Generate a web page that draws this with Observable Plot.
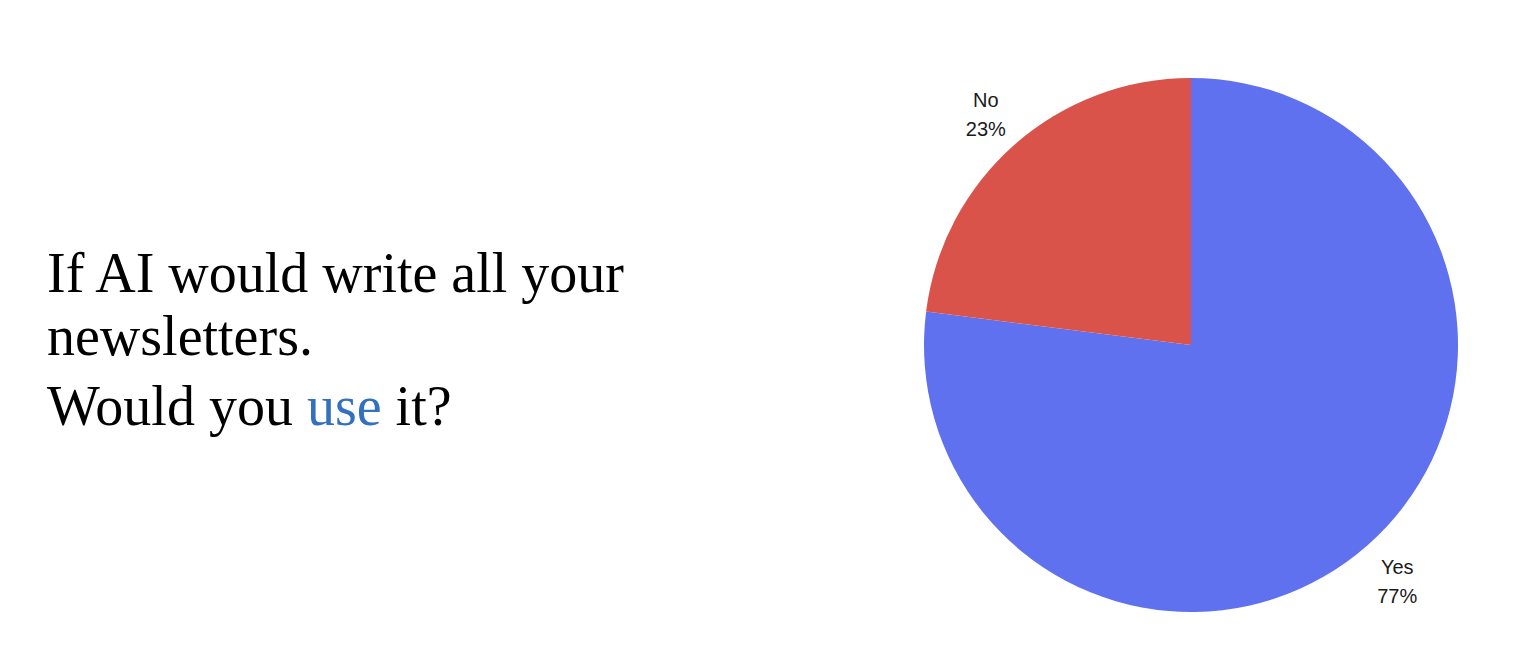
<!DOCTYPE html>
<html>
<head>
<meta charset="utf-8">
<script src="https://cdn.jsdelivr.net/npm/d3@7"></script>
<script src="https://cdn.jsdelivr.net/npm/@observablehq/plot@0.6"></script>
<style>
  html, body { margin: 0; padding: 0; background: #fff; }
  #wrap { position: relative; width: 1534px; height: 672px; overflow: hidden; }
  #title { position: absolute; left: 47px; top: 242px; font-family: "Liberation Serif", "Times New Roman", serif; font-size: 56px; line-height: 63px; color: #000; white-space: nowrap; }
  #title .q { margin-top: 7px; }
  #title .hl { color: #3370BD; }
  #chart { position: absolute; left: 866px; top: 0; }
</style>
</head>
<body>
<div id="wrap">
  <div id="title">
    <div>If AI would write all your<br>newsletters.</div>
    <div class="q">Would you <span class="hl">use</span> it?</div>
  </div>
  <div id="chart"></div>
</div>
<script>
// Data
const labels = ["Yes", "No"];
const values = [77, 23];
const colors = ["#5F71EE", "#D9534A"];

const total = d3.sum(values);
const rows = labels.map((label, i) => ({label, value: values[i]}));
const arcs = d3.pie().sort(null).value(d => d.value)(rows);

const labelRadius = 1.165;
const labelRows = arcs.map(a => {
  const mid = (a.startAngle + a.endAngle) / 2;
  return {
    label: a.data.label,
    text: `${a.data.label}\n${Math.round(a.data.value / total * 100)}%`,
    x: labelRadius * Math.sin(mid),
    y: labelRadius * Math.cos(mid)
  };
});

const colorScale = Plot.scale({color: {type: "ordinal", domain: labels, range: colors}});

const pieMark = (index, scales, vals, dimensions, context) => {
  const cx = scales.x(0), cy = scales.y(0);
  const r = scales.x(1) - scales.x(0);
  const fill = scales.color ? scales.color : (v => colorScale.apply(v));
  const g = d3.create("svg:g").attr("transform", `translate(${cx},${cy})`);
  const arcGen = d3.arc().innerRadius(0).outerRadius(r);
  g.selectAll("path").data(arcs).join("path")
    .attr("d", arcGen)
    .attr("fill", d => fill(d.data.label));
  return g.node();
};

const plot = Plot.plot({
  width: 650,
  height: 672,
  marginLeft: 58,
  marginRight: 58,
  marginTop: 78,
  marginBottom: 60,
  x: {domain: [-1, 1], axis: null},
  y: {domain: [-1, 1], axis: null},
  color: {type: "ordinal", domain: labels, range: colors},
  style: {background: "transparent", overflow: "visible"},
  marks: [
    pieMark,
    Plot.text(labelRows, {
      x: "x", y: "y", text: "text",
      fill: "#1a1a1a",
      fontSize: 20,
      lineHeight: 1.45,
      fontFamily: "'Liberation Sans', Arial, sans-serif"
    })
  ]
});
document.getElementById("chart").appendChild(plot);
</script>
</body>
</html>
